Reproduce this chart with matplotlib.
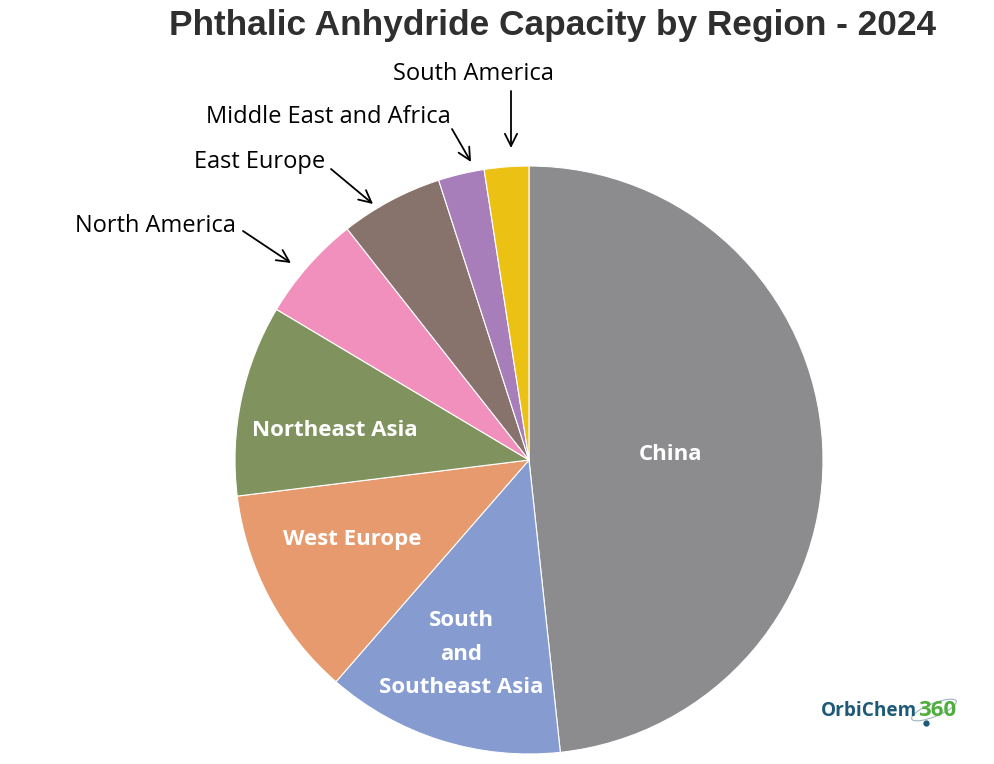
import matplotlib
matplotlib.use('Agg')
import matplotlib.pyplot as plt
from matplotlib.patches import Ellipse

# Share of capacity (percent)
regions = ['China', 'South and Southeast Asia', 'West Europe', 'Northeast Asia',
           'North America', 'East Europe', 'Middle East and Africa', 'South America']
shares = [48.3, 13.1, 11.64, 10.52, 5.83, 5.64, 2.53, 2.44]
colors = ['#8c8c8e', '#869cd1', '#e69a6d', '#80935f', '#f290bd', '#87736b', '#a77eb9', '#ebc214']

H = 764


def py(y):
    # picture pixels count from the top
    return H - y


fig = plt.figure(figsize=(9.94, 7.64), dpi=100)
ax = fig.add_axes([0, 0, 1, 1])

ax.pie(shares, colors=colors, startangle=90, counterclock=False,
       center=(529, py(460)), radius=294, frame=True,
       wedgeprops={'edgecolor': 'white', 'linewidth': 0.8})
ax.set_xlim(0, 994)
ax.set_ylim(0, H)
ax.set_aspect('equal')
ax.axis('off')

ax.text(553, py(25), 'Phthalic Anhydride Capacity by Region - 2024', ha='center', va='center',
        family='Liberation Sans', fontweight='bold', fontsize=25.4, color='#2f2f2f')

# labels inside the slices
inside = [('China', 671, 454), ('South\nand\nSoutheast Asia', 461, 654),
          ('West Europe', 352, 539), ('Northeast Asia', 335, 430)]
for name, x, y in inside:
    ax.text(x, py(y), name, ha='center', va='center', color='white', fontsize=16,
            fontweight='bold', family='Open Sans', linespacing=1.78)

# labels outside, with arrows
outside = [('South America', 473, 74, (511, 91), (511, 148)),
           ('Middle East and Africa', 328, 117, (452, 129), (471, 162)),
           ('East Europe', 260, 162, (331, 169), (373, 204)),
           ('North America', 155, 226, (243, 231), (291, 263))]
for name, x, y, start, end in outside:
    ax.text(x, py(y), name, ha='center', va='center', color='black', fontsize=17, family='Open Sans')
    ax.annotate('', xy=(end[0], py(end[1])), xytext=(start[0], py(start[1])),
                arrowprops={'arrowstyle': '->', 'color': 'black', 'lw': 1.3,
                            'shrinkA': 0, 'shrinkB': 0, 'mutation_scale': 22})

# logo
ax.text(821, py(711), 'OrbiChem', ha='left', va='center', color='#1d5a78', fontsize=13.7,
        fontweight='bold', family='Open Sans')
ax.text(918, py(711), '360', ha='left', va='center', color='#4fae3c', fontsize=16,
        fontweight='bold', family='Open Sans')
ax.add_patch(Ellipse((934, py(710)), 48, 13, angle=22, fill=False, edgecolor='#9fb4c0', lw=0.8))
ax.plot([926], [py(723)], 'o', color='#1d5a78', ms=3.5)

fig.savefig('out.png', dpi=100)
